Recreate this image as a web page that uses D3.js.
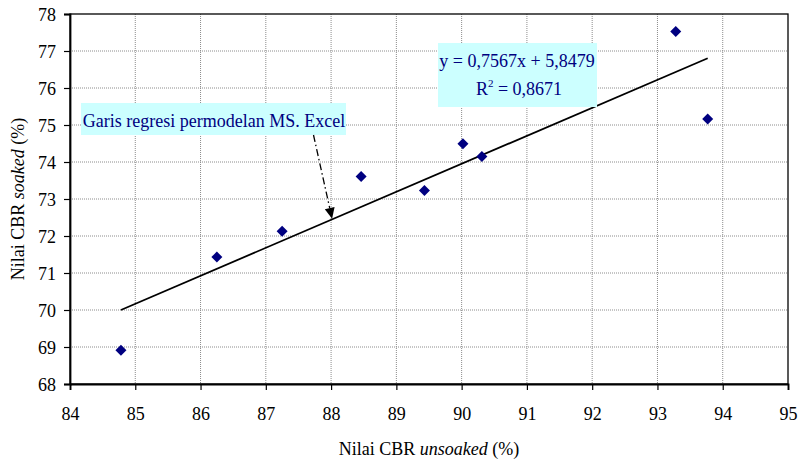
<!DOCTYPE html>
<html>
<head>
<meta charset="utf-8">
<script src="https://cdn.jsdelivr.net/npm/d3@7"></script>
<style>
  html, body { margin: 0; padding: 0; background: #fff; }
  svg { display: block; }
  text { font-family: "Liberation Serif", "Times New Roman", serif; }
</style>
</head>
<body>
<svg id="chart" width="798" height="460"></svg>
<script>
// ---- data ----
const cbrUnsoaked = [84.78, 86.25, 87.25, 88.46, 89.43, 90.02, 90.31, 93.28, 93.77];
const cbrSoaked   = [68.91, 71.43, 72.13, 73.61, 73.23, 74.49, 74.15, 77.53, 75.16];
const xTicks = [84, 85, 86, 87, 88, 89, 90, 91, 92, 93, 94, 95];
const yTicks = [68, 69, 70, 71, 72, 73, 74, 75, 76, 77, 78];
const regSlope = 0.7567, regIntercept = 5.8479, rSquared = "0,8671";
const regXRange = [84.78, 93.77];
const equationText = "y = 0,7567x + 5,8479";
const calloutText = "Garis regresi permodelan MS. Excel";
const calloutTargetX = 88.0;
const xTitle = ["Nilai CBR ", "unsoaked", " (%)"];
const yTitle = ["Nilai CBR ", "soaked", " (%)"];

// ---- layout ----
const svg = d3.select("#chart");
const L = 70, R = 788, T = 14, B = 384;
const FS = 18;
const x = d3.scaleLinear().domain([84, 95]).range([L, R]);
const y = d3.scaleLinear().domain([68, 78]).range([B, T]);

// gridlines
const grid = svg.append("g");
grid.selectAll("line.gx").data(xTicks.slice(1, -1)).join("line")
  .attr("x1", d => x(d)).attr("x2", d => x(d)).attr("y1", T).attr("y2", B)
  .attr("stroke", "#8c8c8c").attr("stroke-width", 1).attr("stroke-dasharray", "1,1");
grid.selectAll("line.gy").data(yTicks.slice(1, -1)).join("line")
  .attr("x1", L).attr("x2", R).attr("y1", d => y(d)).attr("y2", d => y(d))
  .attr("stroke", "#8c8c8c").attr("stroke-width", 1).attr("stroke-dasharray", "1,1");

// plot border
svg.append("rect").attr("x", L).attr("y", T).attr("width", R - L).attr("height", B - T)
  .attr("fill", "none").attr("stroke", "#000").attr("stroke-width", 1.3);

// axes
const xAxis = svg.append("g").attr("transform", `translate(0,${B})`)
  .call(d3.axisBottom(x).tickValues(xTicks).tickSize(6).tickPadding(17).tickFormat(d3.format("d")));
const yAxis = svg.append("g").attr("transform", `translate(${L},0)`)
  .call(d3.axisLeft(y).tickValues(yTicks).tickSize(6).tickPadding(8).tickFormat(d3.format("d")));
[xAxis, yAxis].forEach(a => {
  a.select(".domain").attr("stroke", "#000").attr("stroke-width", 1.8);
  a.selectAll(".tick line").attr("stroke", "#000").attr("stroke-width", 1.2);
  a.selectAll(".tick text").attr("font-family", "Liberation Serif, serif")
    .attr("font-size", FS).attr("fill", "#000");
});
yAxis.selectAll(".tick text").attr("dy", "0.34em");

// regression line
svg.append("line")
  .attr("x1", x(regXRange[0])).attr("y1", y(regSlope * regXRange[0] + regIntercept))
  .attr("x2", x(regXRange[1])).attr("y2", y(regSlope * regXRange[1] + regIntercept))
  .attr("stroke", "#000").attr("stroke-width", 1.8);

// points
const pts = cbrUnsoaked.map((v, i) => [v, cbrSoaked[i]]);
svg.append("g").selectAll("path").data(pts).join("path")
  .attr("transform", d => `translate(${x(d[0])},${y(d[1])})`)
  .attr("d", "M0,-5.5L5.5,0L0,5.5L-5.5,0Z")
  .attr("fill", "#000080");

// equation box
const eq = svg.append("g");
eq.append("rect").attr("x", 438).attr("y", 43).attr("width", 159).attr("height", 64).attr("fill", "#ccffff");
eq.append("text").attr("x", 517).attr("y", 67).attr("text-anchor", "middle")
  .attr("font-size", FS).attr("fill", "#000080").text(equationText);
const r2 = eq.append("text").attr("x", 519).attr("y", 95).attr("text-anchor", "middle")
  .attr("font-size", FS).attr("fill", "#000080");
r2.append("tspan").text("R");
r2.append("tspan").attr("font-size", 11).attr("dy", -8).text("2");
r2.append("tspan").attr("dy", 8).text(" = " + rSquared);

// callout
const co = svg.append("g");
co.append("rect").attr("x", 81).attr("y", 103).attr("width", 265).attr("height", 32).attr("fill", "#ccffff");
co.append("text").attr("x", 214).attr("y", 126.5).attr("text-anchor", "middle")
  .attr("font-size", FS).attr("fill", "#000080").text(calloutText);

const tipX = x(calloutTargetX) + 1, tipY = y(regSlope * calloutTargetX + regIntercept) - 1;
const startX = 313.5, startY = 135;
const ang = Math.atan2(tipY - startY, tipX - startX);
const headLen = 11, headW = 5;
const baseX = tipX - headLen * Math.cos(ang), baseY = tipY - headLen * Math.sin(ang);
svg.append("line").attr("x1", startX).attr("y1", startY).attr("x2", baseX).attr("y2", baseY)
  .attr("stroke", "#000").attr("stroke-width", 1.3).attr("stroke-dasharray", "7,3,1.5,3");
svg.append("path")
  .attr("d", `M${tipX},${tipY}L${baseX + headW * Math.sin(ang)},${baseY - headW * Math.cos(ang)}L${baseX - headW * Math.sin(ang)},${baseY + headW * Math.cos(ang)}Z`)
  .attr("fill", "#000");

// axis titles
const xt = svg.append("text").attr("x", (L + R) / 2).attr("y", 455).attr("text-anchor", "middle")
  .attr("font-size", FS).attr("fill", "#000");
xt.append("tspan").text(xTitle[0]);
xt.append("tspan").attr("font-style", "italic").text(xTitle[1]);
xt.append("tspan").text(xTitle[2]);

const yt = svg.append("text").attr("transform", `translate(24,${(T + B) / 2}) rotate(-90)`)
  .attr("text-anchor", "middle").attr("font-size", FS).attr("fill", "#000");
yt.append("tspan").text(yTitle[0]);
yt.append("tspan").attr("font-style", "italic").text(yTitle[1]);
yt.append("tspan").text(yTitle[2]);
</script>
</body>
</html>
